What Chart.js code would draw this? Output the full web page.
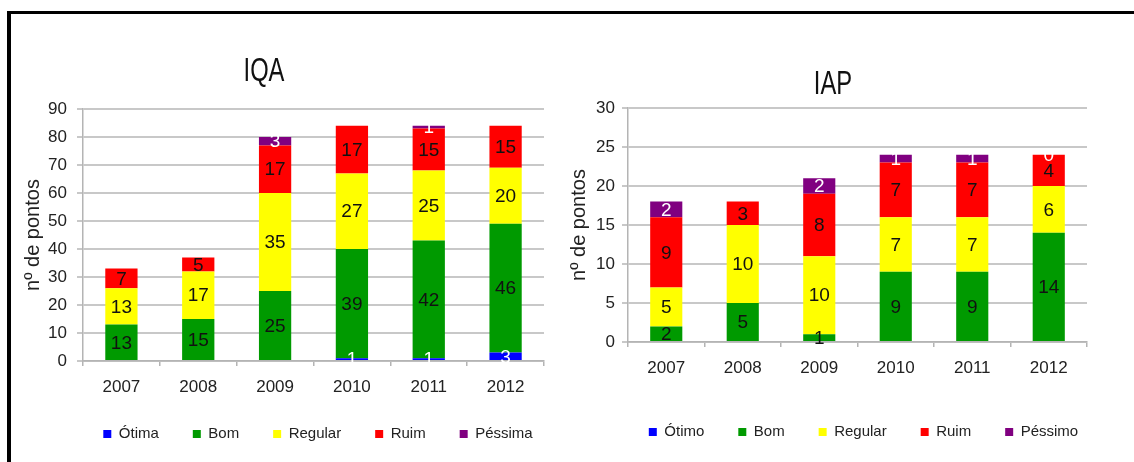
<!DOCTYPE html>
<html>
<head>
<meta charset="utf-8">
<script src="https://cdn.jsdelivr.net/npm/chart.js@4.4.1/dist/chart.umd.min.js"></script>
<style>
  html, body { margin: 0; padding: 0; background: #fff; overflow: hidden; }
  body { width: 1134px; height: 462px; position: relative; }
  #frame { position: absolute; left: 7px; top: 11px; width: 1140px; height: 460px;
           border-top: 3px solid #000; border-left: 4px solid #000; }
  canvas { position: absolute; top: 0; }
  #iqaChart { left: 12px; }
  #iapChart { left: 566px; }
  .chart-title { position: absolute; width: 120px; margin-left: -60px; text-align: center;
                 font: 33px 'Liberation Sans', Arial, sans-serif; color: #111; line-height: 1;
                 transform: scaleX(0.72); }
  #iqaTitle { left: 264px; top: 53px; }
  #iapTitle { left: 833px; top: 66px; }
</style>
</head>
<body>
<div id="frame"></div>
<canvas id="iqaChart" width="612" height="462"></canvas>
<canvas id="iapChart" width="595" height="462"></canvas>
<div class="chart-title" id="iqaTitle">IQA</div>
<div class="chart-title" id="iapTitle">IAP</div>
<script>
const years = ["2007", "2008", "2009", "2010", "2011", "2012"];

// IQA
const iqaOtima = [null, null, null, 1, 1, 3];
const iqaBom = [13, 15, 25, 39, 42, 46];
const iqaRegular = [13, 17, 35, 27, 25, 20];
const iqaRuim = [7, 5, 17, 17, 15, 15];
const iqaPessima = [null, null, 3, null, 1, null];
const iqaMax = 90;
const iqaStep = 10;

// IAP
const iapOtimo = [null, null, null, null, null, null];
const iapBom = [2, 5, 1, 9, 9, 14];
const iapRegular = [5, 10, 10, 7, 7, 6];
const iapRuim = [9, 3, 8, 7, 7, 4];
const iapPessimo = [2, null, 2, 1, 1, 0];
const iapMax = 30;
const iapStep = 5;

const colors = ["#0000ff", "#009a00", "#ffff00", "#ff0000", "#800080"];
const labelColors = ["#fff", "#111", "#111", "#111", "#fff"];
const sans = "'Liberation Sans', Arial, sans-serif";

// draws the value in the middle of every segment
const segmentLabels = {
  id: "segmentLabels",
  afterDatasetsDraw(chart) {
    const ctx = chart.ctx;
    ctx.save();
    ctx.font = "19px " + sans;
    ctx.textAlign = "center";
    ctx.textBaseline = "middle";
    chart.data.datasets.forEach((ds, i) => {
      const meta = chart.getDatasetMeta(i);
      ds.data.forEach((v, j) => {
        if (v === null) return;
        const bar = meta.data[j];
        ctx.fillStyle = labelColors[i];
        ctx.fillText(String(v), bar.x, (bar.y + bar.base) / 2 + 1);
      });
    });
    ctx.restore();
  },
};

function makeChart(id, names, series, max, step, lay) {
  const ctx = document.getElementById(id).getContext("2d");
  return new Chart(ctx, {
    type: "bar",
    data: {
      labels: years,
      datasets: series.map((data, i) => ({
        label: names[i],
        data: data,
        backgroundColor: colors[i],
        borderWidth: 0,
        barPercentage: 0.42,
        categoryPercentage: 1,
      })),
    },
    options: {
      responsive: false,
      animation: false,
      layout: { padding: { left: 0, right: 0, top: lay.topPad, bottom: lay.bottomPad } },
      plugins: {
        tooltip: { enabled: false },
        title: { display: false },
        legend: {
          position: "bottom",
          labels: {
            boxWidth: 8,
            boxHeight: 8,
            padding: 34,
            color: "#222",
            font: { family: sans, size: 15 },
          },
        },
      },
      scales: {
        x: {
          stacked: true,
          grid: { drawOnChartArea: false, drawTicks: true, tickLength: 5, color: "#b4b4b4", lineWidth: 1.5 },
          border: { color: "#b4b4b4", width: 1.5 },
          ticks: { color: "#222", padding: 11, font: { family: sans, size: 17 } },
          afterFit: (s) => { s.height = lay.xHeight; },
        },
        y: {
          stacked: true,
          min: 0,
          max: max,
          ticks: { stepSize: step, color: "#222", padding: lay.tickPad, font: { family: sans, size: 17 } },
          grid: { color: "#c8c8c8", lineWidth: 2, tickLength: 6 },
          border: { color: "#b4b4b4", width: 1.5 },
          title: {
            display: true,
            text: "nº de pontos",
            color: "#222",
            font: { family: sans, size: 20 },
            padding: { top: lay.yTitlePad, bottom: 0 },
          },
          afterFit: (s) => { s.width = lay.yWidth; },
        },
        // empty right-hand box that keeps the legend centred like the original
        y2: {
          position: "right",
          display: true,
          grid: { display: false },
          border: { display: false },
          ticks: { display: false },
          afterFit: (s) => { s.width = lay.rightWidth; },
        },
      },
    },
    plugins: [segmentLabels],
  });
}

makeChart(
  "iqaChart",
  ["Ótima", "Bom", "Regular", "Ruim", "Péssima"],
  [iqaOtima, iqaBom, iqaRegular, iqaRuim, iqaPessima],
  iqaMax,
  iqaStep,
  { topPad: 109, bottomPad: 10.5, xHeight: 31.5, yWidth: 71, rightWidth: 80, yTitlePad: 9.5, tickPad: 10 }
);

makeChart(
  "iapChart",
  ["Ótimo", "Bom", "Regular", "Ruim", "Péssimo"],
  [iapOtimo, iapBom, iapRegular, iapRuim, iapPessimo],
  iapMax,
  iapStep,
  { topPad: 108, bottomPad: 12.5, xHeight: 48.5, yWidth: 62, rightWidth: 74, yTitlePad: 1, tickPad: 7 }
);
</script>
</body>
</html>
